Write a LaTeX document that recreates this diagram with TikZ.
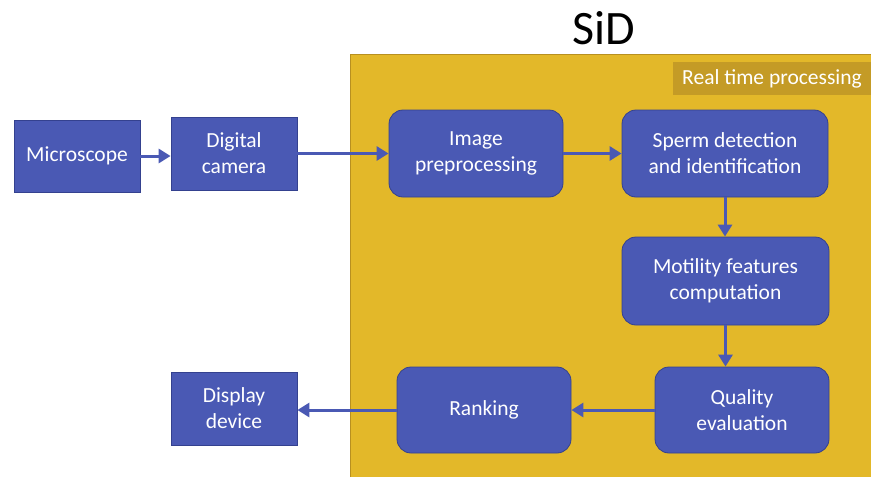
\documentclass[tikz,border=0pt]{standalone}
\usepackage{fontspec}
\setmainfont{Carlito}
\usetikzlibrary{arrows.meta}
\definecolor{boxblue}{HTML}{4A59B4}
\definecolor{boxedge}{HTML}{34418F}
\definecolor{panel}{HTML}{E3B829}
\definecolor{paneledge}{HTML}{B89020}
\definecolor{tagfill}{HTML}{C49B26}
\tikzset{
  sharpbox/.style={draw=boxedge, line width=0.8pt, fill=boxblue, text=white,
    align=center, font=\fontsize{21.5}{26}\selectfont, inner sep=0pt},
  roundbox/.style={sharpbox, rounded corners=14pt},
  flow/.style={draw=boxblue, line width=3pt,
    -{Triangle[length=12pt,width=14pt]}, shorten >=0pt}
}
\begin{document}
\begin{tikzpicture}[x=1pt,y=-1pt]
\useasboundingbox (0,0) rectangle (871,477);
% processing panel
\fill[panel] (350,54) rectangle (871,477);
\draw[paneledge, line width=0.8pt] (871,54) -- (350,54) -- (350,477);
\node[fill=tagfill, text=white, font=\fontsize{21.5}{26}\selectfont,
  minimum width=198pt, minimum height=33pt, inner sep=0pt]
  (tag) at (772,78.5) {Real time processing};
\node[font=\fontsize{48}{54}\selectfont] (title) at (604,28) {SiD};
% blocks
\node[sharpbox, minimum width=126pt, minimum height=72pt] (mic) at (77,156) {Microscope};
\node[sharpbox, minimum width=126pt, minimum height=73pt] (cam) at (234,153.5) {Digital\\camera};
\node[roundbox, minimum width=174pt, minimum height=87pt] (pre) at (476,153.5) {Image\\preprocessing};
\node[roundbox, minimum width=206pt, minimum height=87pt] (det) at (725,153.5) {Sperm detection\\and identification};
\node[roundbox, minimum width=207pt, minimum height=88pt] (mot) at (725.5,281) {Motility features\\computation};
\node[roundbox, minimum width=174pt, minimum height=86pt] (qual) at (742,410) {Quality\\evaluation};
\node[roundbox, minimum width=174pt, minimum height=86pt] (rank) at (484,410) {Ranking};
\node[sharpbox, minimum width=126pt, minimum height=73pt] (disp) at (234,408.5) {Display\\device};
% connections
\draw[flow] (mic.east) -- (cam.west |- mic.east);
\draw[flow] (cam.east) -- (pre.west |- cam.east);
\draw[flow] (pre.east) -- (det.west |- pre.east);
\draw[flow] (det.south) -- (mot.north -| det.south);
\draw[flow] (mot.south) -- (mot.south |- qual.north);
\draw[flow] (qual.west) -- (rank.east |- qual.west);
\draw[flow] (rank.west) -- (disp.east |- rank.west);
\end{tikzpicture}
\end{document}
